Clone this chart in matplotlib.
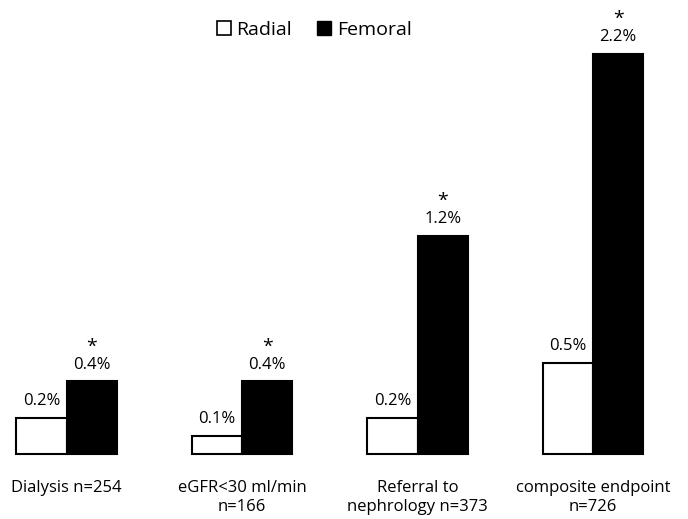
import numpy as np
import matplotlib.pyplot as plt
from matplotlib.patches import Patch

plt.rcParams['font.family'] = ['Open Sans', 'DejaVu Sans']

# 数据
categories = ["Dialysis n=254", "eGFR<30 ml/min\nn=166", "Referral to\nnephrology n=373", "composite endpoint\nn=726"]
radial = [0.2, 0.1, 0.2, 0.5]
femoral = [0.4, 0.4, 1.2, 2.2]
stars = [True, True, True, True]

fig = plt.figure(figsize=(6.88, 5.19), dpi=100)
ax = fig.add_axes([0, 0, 1, 1])

x = np.arange(len(categories))
w = 0.287
ax.bar(x - w / 2, radial, w, color="white", edgecolor="black", linewidth=1.5, label="Radial")
ax.bar(x + w / 2, femoral, w, color="black", edgecolor="black", linewidth=1.5, label="Femoral")

# 数值标签
for i in range(len(x)):
    ax.annotate(f"{radial[i]}%", (x[i] - w / 2, radial[i]), xytext=(0, 9), textcoords="offset points",
                ha="center", va="baseline", fontsize=12)
    ax.annotate(f"{femoral[i]}%", (x[i] + w / 2, femoral[i]), xytext=(0, 9), textcoords="offset points",
                ha="center", va="baseline", fontsize=12)
    if stars[i]:
        ax.annotate("*", (x[i] + w / 2, femoral[i]), xytext=(0, 25), textcoords="offset points",
                    ha="center", va="center", fontsize=14)
    ax.annotate(categories[i], (x[i], 0), xytext=(0, -19), textcoords="offset points",
                ha="center", va="top", fontsize=12, linespacing=1.2)

ax.set_xlim(-66.5 / 175.5, (688 - 66.5) / 175.5)
ax.set_ylim(-65 / 182, (519 - 65) / 182)
ax.axis("off")

handles = [Patch(facecolor="white", edgecolor="black", linewidth=1.2, label="Radial"),
           Patch(facecolor="black", edgecolor="black", label="Femoral")]
ax.legend(handles=handles, loc="center", bbox_to_anchor=(0.457, 1 - 30 / 519), ncol=2, frameon=False,
          fontsize=14, handlelength=0.72, handleheight=0.72, handletextpad=0.3, columnspacing=1.3,
          borderpad=0)

fig.savefig("out.png", dpi=100)
